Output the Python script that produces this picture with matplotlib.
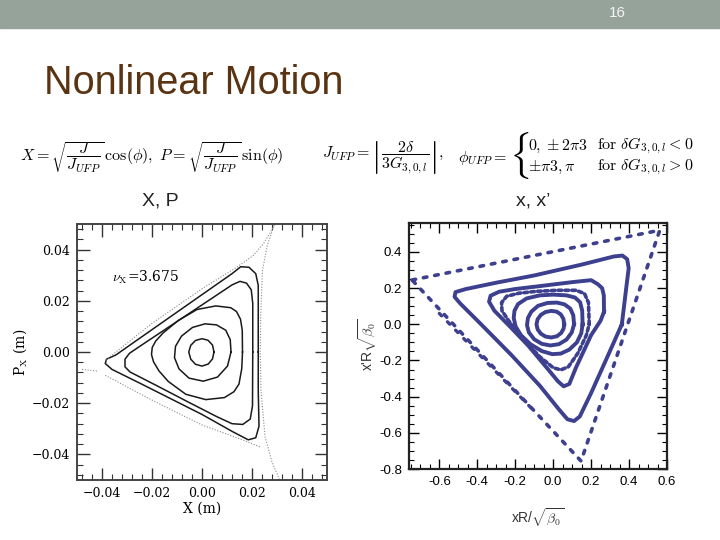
import matplotlib.pyplot as plt
from matplotlib.patches import Rectangle
from matplotlib.ticker import MultipleLocator

plt.rcParams['mathtext.fontset'] = 'cm'

# ---- left panel: X - P_x phase space (m) ----
ring1_x = [0.0048, 0.0042, 0.0024, 0.0, -0.0026, -0.0045, -0.0053, -0.0045, -0.0026, 0.0, 0.0025, 0.0042, 0.0048]
ring1_y = [0.0, 0.0027, 0.0046, 0.0052, 0.0045, 0.0026, 0.0, -0.0028, -0.0048, -0.0055, -0.0047, -0.0027, 0.0]

ring2_x = [0.0116, 0.0113, 0.0095, 0.0058, 0.0012, -0.0038, -0.0082, -0.0106, -0.011, -0.0092, -0.0052, 0.0005, 0.0062, 0.0102, 0.0116]
ring2_y = [0.0, 0.0048, 0.0085, 0.0106, 0.011, 0.0096, 0.0062, 0.0022, -0.0022, -0.0066, -0.0102, -0.0114, -0.0098, -0.0055, 0.0]

ring3_x = [0.0162, 0.0161, 0.0154, 0.0138, 0.0115, 0.0055, -0.002, -0.0095, -0.0155, -0.0185, -0.0199, -0.0202, -0.0194, -0.0172,
           -0.0135, -0.0065, 0.0015, 0.009, 0.0128, 0.0148, 0.0159, 0.0162]
ring3_y = [0.0, 0.0085, 0.0128, 0.0158, 0.0173, 0.018, 0.0166, 0.0123, 0.0075, 0.0043, 0.0018, -0.001, -0.0038, -0.0074,
           -0.0115, -0.0165, -0.0186, -0.0178, -0.0155, -0.0125, -0.0065, 0.0]

ring4_x = [0.0203, 0.0203, 0.0197, 0.0178, 0.0152, 0.012, 0.0, -0.012, -0.024, -0.029, -0.0308, -0.0308, -0.0288,
           -0.018, -0.006, 0.006, 0.012, 0.0163, 0.0193, 0.0202, 0.0203]
ring4_y = [0.0, 0.019, 0.0243, 0.0269, 0.0276, 0.0262, 0.0184, 0.0106, 0.0028, -0.0005, -0.0028, -0.0058, -0.0078,
           -0.0132, -0.0193, -0.0253, -0.028, -0.0283, -0.0262, -0.021, 0.0]

ring5_x = [0.0225, 0.0225, 0.0215, 0.0188, 0.0155, 0.012, 0.0, -0.012, -0.024, -0.0345, -0.0382, -0.0387, -0.036,
           -0.024, -0.012, 0.0, 0.0124, 0.0185, 0.0215, 0.0228, 0.0225, 0.0225]
ring5_y = [0.0, 0.026, 0.0306, 0.0331, 0.0333, 0.0306, 0.0224, 0.0142, 0.006, -0.0012, -0.0028, -0.0045, -0.0068,
           -0.0126, -0.0185, -0.0244, -0.0312, -0.0343, -0.0335, -0.029, -0.015, 0.0]

sep_up_x = [-0.0385, -0.02, 0.0, 0.0139, 0.0205, 0.0245, 0.027, 0.029]
sep_up_y = [-0.0032, 0.0112, 0.0247, 0.0331, 0.0377, 0.0422, 0.0461, 0.0498]
sep_right_x = [0.029, 0.0262, 0.0242, 0.0235, 0.0233, 0.0236, 0.0252, 0.028, 0.031]
sep_right_y = [0.0498, 0.042, 0.032, 0.015, 0.0, -0.015, -0.033, -0.043, -0.0498]
sep_low_x = [-0.0387, -0.02, 0.0, 0.0164, 0.0235]
sep_low_y = [-0.0091, -0.0188, -0.0285, -0.0344, -0.0372]
sep_left_x = [-0.048, -0.0415]
sep_left_y = [-0.0068, -0.0075]

left_ticks = [-0.04, -0.02, 0.0, 0.02, 0.04]
left_labels = ['\u22120.04', '\u22120.02', '0.00', '0.02', '0.04']

# ---- right panel: normalised x - x' ----
orbA_x = [0.058, 0.054, 0.04, 0.018, -0.01, -0.04, -0.065, -0.082, -0.088, -0.082, -0.065, -0.04, -0.01, 0.02, 0.042, 0.055, 0.058]
orbA_y = [0.0, 0.03, 0.055, 0.07, 0.074, 0.068, 0.052, 0.028, 0.0, -0.028, -0.052, -0.068, -0.073, -0.066, -0.048, -0.024, 0.0]

orbB_x = [0.11, 0.106, 0.09, 0.06, 0.02, -0.03, -0.08, -0.115, -0.133, -0.138, -0.128, -0.1, -0.06, -0.015, 0.03, 0.07, 0.098, 0.11]
orbB_y = [0.0, 0.05, 0.087, 0.11, 0.12, 0.118, 0.102, 0.07, 0.035, -0.005, -0.045, -0.083, -0.108, -0.117, -0.11, -0.085, -0.045, 0.0]

orbC_x = [0.155, 0.153, 0.142, 0.115, 0.07, 0.0, -0.07, -0.14, -0.185, -0.204, -0.208, -0.198, -0.17, -0.12, -0.06, -0.005, 0.04,
          0.085, 0.125, 0.148, 0.155]
orbC_y = [0.0, 0.075, 0.122, 0.148, 0.16, 0.164, 0.16, 0.143, 0.112, 0.075, 0.035, -0.012, -0.06, -0.11, -0.148, -0.165, -0.162,
          -0.14, -0.1, -0.05, 0.0]

orbD_x = [0.19, 0.186, 0.165, 0.12, 0.02, -0.09, -0.18, -0.245, -0.272, -0.27, -0.235, -0.16, -0.07, 0.0, 0.04, 0.08, 0.13, 0.175, 0.19]
orbD_y = [0.0, 0.12, 0.17, 0.188, 0.188, 0.182, 0.172, 0.155, 0.12, 0.075, 0.02, -0.08, -0.18, -0.24, -0.252, -0.235, -0.16, -0.06, 0.0]

orbF_x = [0.268, 0.267, 0.258, 0.235, 0.2, 0.1, -0.087, -0.2, -0.285, -0.33, -0.338, -0.31, -0.23, -0.13, -0.03, 0.025, 0.055, 0.085,
          0.12, 0.2, 0.25, 0.268]
orbF_y = [0.07, 0.16, 0.2, 0.222, 0.244, 0.233, 0.209, 0.195, 0.18, 0.158, 0.125, 0.075, -0.01, -0.12, -0.245, -0.315, -0.343, -0.33,
          -0.24, -0.06, 0.02, 0.07]

orbE_x = [0.362, 0.385, 0.398, 0.39, 0.365, 0.32, 0.15, -0.1, -0.3, -0.46, -0.515, -0.52, -0.49, -0.38, -0.22, -0.07, 0.03, 0.075,
          0.11, 0.14, 0.2, 0.29, 0.362]
orbE_y = [0.0, 0.2, 0.31, 0.36, 0.38, 0.375, 0.33, 0.27, 0.23, 0.195, 0.178, 0.152, 0.115, 0.0, -0.17, -0.34, -0.47, -0.525,
          -0.535, -0.51, -0.38, -0.17, 0.0]

sep_x = [-0.744, 0.562, 0.147, -0.744]
sep_y = [0.245, 0.52, -0.756, 0.245]
sep2_x = [-0.6, -0.1]
sep2_y = [0.06, -0.48]

right_xticks = [-0.6, -0.4, -0.2, 0.0, 0.2, 0.4, 0.6]
right_xlabels = ['-0.6', '-0.4', '-0.2', '0.0', '0.2', '0.4', '0.6']
right_yticks = [-0.8, -0.6, -0.4, -0.2, 0.0, 0.2, 0.4]
right_ylabels = ['-0.8', '-0.6', '-0.4', '-0.2', '0.0', '0.2', '0.4']

W, H = 720, 540


def fx(px):
    return px / W


def fy(py):
    return 1 - py / H


fig = plt.figure(figsize=(7.2, 5.4), dpi=100)

# header bar, page number, title
fig.patches.append(Rectangle((0, fy(28)), 1, 28 / H, transform=fig.transFigure, color='#95a39a', zorder=0))
fig.text(fx(617), fy(13), '16', color='#f4f4f4', fontsize=11, family='Liberation Sans',
         ha='center', va='center')
fig.text(fx(44), fy(83), 'Nonlinear Motion', color='#5a3412', fontsize=28.5,
         family='Liberation Sans', ha='left', va='center')

# formulas
fs = 11.5
fig.text(fx(20), fy(158), r'$X=\sqrt{\dfrac{J}{J_{UFP}}}\,\cos(\phi),\ P=\sqrt{\dfrac{J}{J_{UFP}}}\,\sin(\phi)$',
         fontsize=fs, ha='left', va='center')
fig.text(fx(322), fy(158), r'$J_{UFP}=\left|\dfrac{2\delta}{3G_{3,0,l}}\right|,$',
         fontsize=fs, ha='left', va='center')
fig.text(fx(458), fy(158), r'$\phi_{UFP}=$', fontsize=fs, ha='left', va='center')
fig.text(fx(509), fy(156), r'$\{$', fontsize=28, ha='left', va='center')
fig.text(fx(528), fy(146), r'$0,\pm2\pi3$', fontsize=fs, ha='left', va='center')
fig.text(fx(528), fy(167), r'$\pm\pi3,\pi$', fontsize=fs, ha='left', va='center')
fig.text(fx(597), fy(146), r'$\mathrm{for}\ \delta G_{3,0,l}<0$', fontsize=fs, ha='left', va='center')
fig.text(fx(597), fy(167), r'$\mathrm{for}\ \delta G_{3,0,l}>0$', fontsize=fs, ha='left', va='center')

fig.text(fx(160), fy(201), 'X, P', fontsize=14, family='Liberation Sans', ha='center', va='center', color='#222222')
fig.text(fx(533), fy(201), "x, x\u2019", fontsize=14, family='Liberation Sans', ha='center', va='center', color='#222222')

# ---- left panel ----
ax1 = fig.add_axes([fx(77), fy(480), 250 / W, 256 / H])
for xs, ys in [(ring1_x, ring1_y), (ring2_x, ring2_y), (ring3_x, ring3_y), (ring4_x, ring4_y), (ring5_x, ring5_y)]:
    ax1.plot(xs, ys, color='#1a1a1a', lw=1.1, solid_joinstyle='round')
for xs, ys in [(sep_up_x, sep_up_y), (sep_right_x, sep_right_y), (sep_low_x, sep_low_y), (sep_left_x, sep_left_y)]:
    ax1.plot(xs, ys, color='#8a8a8a', lw=0.8, linestyle=(0, (1, 1.5)))
ax1.text(-0.036, 0.0292, r'$\nu_{\rm X}$=3.675', fontsize=10, family='DejaVu Serif', va='center', ha='left')
ax1.set_xlim(-0.05, 0.05)
ax1.set_ylim(-0.05, 0.05)
ax1.set_xticks(left_ticks, left_labels, family='DejaVu Serif', fontsize=9)
ax1.set_yticks(left_ticks, left_labels, family='DejaVu Serif', fontsize=9)
ax1.xaxis.set_minor_locator(MultipleLocator(0.004))
ax1.yaxis.set_minor_locator(MultipleLocator(0.004))
ax1.tick_params(which='both', direction='in', top=True, right=True, color='#333333')
ax1.tick_params(which='major', length=9, width=1.0, pad=5)
ax1.tick_params(which='minor', length=4, width=0.8)
for s in ax1.spines.values():
    s.set_linewidth(1.4)
    s.set_color('#444444')
ax1.set_xlabel('X (m)', family='DejaVu Serif', fontsize=10, labelpad=1)
ax1.set_ylabel(r'P$_{\rm X}$ (m)', family='DejaVu Serif', fontsize=10, labelpad=2)

# ---- right panel ----
blue = '#3d3f8f'
ax2 = fig.add_axes([fx(409), fy(469), 258 / W, 246 / H])
ax2.plot(sep_x, sep_y, color=blue, lw=2.6, linestyle=(0, (1, 2.2)), dash_capstyle='round')
ax2.plot(sep2_x, sep2_y, color=blue, lw=2.4, linestyle=(0, (1, 2.5)), dash_capstyle='round')
for xs, ys in [(orbA_x, orbA_y), (orbB_x, orbB_y), (orbC_x, orbC_y), (orbF_x, orbF_y), (orbE_x, orbE_y)]:
    ax2.plot(xs, ys, color=blue, lw=2.8, solid_joinstyle='round')
ax2.plot(orbD_x, orbD_y, color=blue, lw=2.6, linestyle=(0, (1, 0.9)), dash_capstyle='round')
ax2.set_xlim(-0.76, 0.58)
ax2.set_ylim(-0.8, 0.56)
ax2.set_xticks(right_xticks, right_xlabels, family='Liberation Sans', fontsize=9.5)
ax2.set_yticks(right_yticks, right_ylabels, family='Liberation Sans', fontsize=9.5)
ax2.xaxis.set_minor_locator(MultipleLocator(0.05))
ax2.yaxis.set_minor_locator(MultipleLocator(0.05))
ax2.tick_params(which='both', direction='in', top=True, right=True)
ax2.tick_params(which='major', length=7, width=1.0, pad=5)
ax2.tick_params(which='minor', length=3.5, width=0.8)
for s in ax2.spines.values():
    s.set_linewidth(1.6)
    s.set_color('#222222')
fig.text(fx(368), fy(345), r"x'R$\sqrt{\beta_0}$", fontsize=10, family='Liberation Sans',
         rotation=90, ha='center', va='center', color='#333333')
fig.text(fx(538), fy(518), r"xR/$\sqrt{\beta_0}$", fontsize=10, family='Liberation Sans',
         ha='center', va='center', color='#333333')

fig.savefig('out.png', dpi=100)
